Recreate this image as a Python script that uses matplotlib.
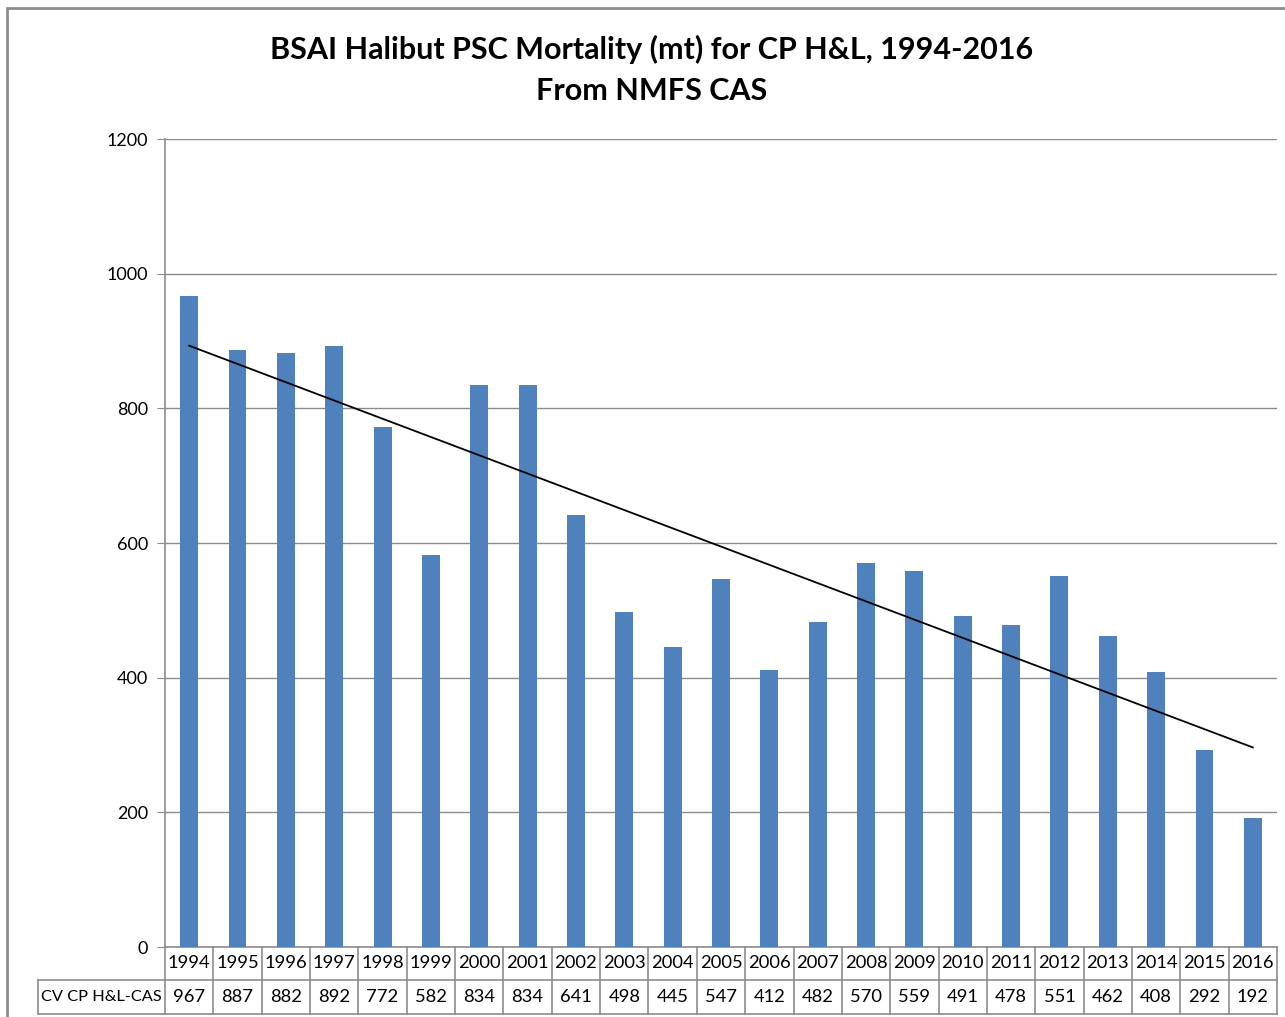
import matplotlib
matplotlib.use("Agg")
import matplotlib.pyplot as plt
import numpy as np
from matplotlib.transforms import blended_transform_factory
from matplotlib.patches import Rectangle

years = ["1994", "1995", "1996", "1997", "1998", "1999", "2000", "2001", "2002", "2003",
         "2004", "2005", "2006", "2007", "2008", "2009", "2010", "2011", "2012", "2013",
         "2014", "2015", "2016"]
values = [967, 887, 882, 892, 772, 582, 834, 834, 641, 498, 445, 547, 412, 482, 570,
          559, 491, 478, 551, 462, 408, 292, 192]
series_name = "CV CP H&L-CAS"
title = "BSAI Halibut PSC Mortality (mt) for CP H&L, 1994-2016\nFrom NMFS CAS"
yticks = [0, 200, 400, 600, 800, 1000, 1200]

plt.rcParams['font.family'] = ['Lato', 'DejaVu Sans']

W, H = 1285, 1017
fig = plt.figure(figsize=(W / 100, H / 100), dpi=100)

# outer chart border
fig.patches.append(Rectangle((7 / W, -0.1), 1.2, 1 - 8 / H + 0.1, transform=fig.transFigure,
                             fill=False, edgecolor='#8c8c8c', linewidth=2))

left, right = 165, 1277
top, bottom = 139, 947
ax = fig.add_axes([left / W, 1 - bottom / H, (right - left) / W, (bottom - top) / H])

x = np.arange(len(years))
ax.bar(x, values, width=0.37, color='#4F81BD', zorder=3)

# linear trendline
coef = np.polyfit(x, values, 1)
ax.plot([x[0], x[-1]], np.polyval(coef, [x[0], x[-1]]), color='black', linewidth=1.3, zorder=4)

ax.set_xlim(-0.5, len(years) - 0.5)
ax.set_ylim(0, 1200)
ax.set_yticks(yticks)
ax.set_yticklabels([str(t) for t in yticks], fontsize=13)
ax.set_xticks([])
ax.grid(axis='y', color='#8c8c8c', linewidth=1, zorder=0)
for s in ['top', 'right']:
    ax.spines[s].set_visible(False)
ax.spines['left'].set_color('#8c8c8c')
ax.spines['bottom'].set_color('#8c8c8c')
ax.spines['left'].set_linewidth(1.2)
ax.spines['bottom'].set_linewidth(1.2)
ax.tick_params(axis='y', length=6, color='#8c8c8c', pad=6)

# data table below
trans = blended_transform_factory(ax.transData, ax.transAxes)
ph = bottom - top
r1 = (980 - bottom) / ph
r2 = (1014 - bottom) / ph
lc = '#8c8c8c'
lw = 1.2
xl_px = 38
xl = -0.5 - (left - xl_px) / ((right - left) / len(years))
# horizontal lines
ax.plot([xl, len(years) - 0.5], [-r1, -r1], transform=trans, color=lc, lw=lw, clip_on=False)
ax.plot([xl, len(years) - 0.5], [-r2, -r2], transform=trans, color=lc, lw=lw, clip_on=False)
# vertical lines
for i in range(len(years) + 1):
    ax.plot([i - 0.5, i - 0.5], [0, -r2], transform=trans, color=lc, lw=lw, clip_on=False)
ax.plot([xl, xl], [-r1, -r2], transform=trans, color=lc, lw=lw, clip_on=False)
for i, (yr, v) in enumerate(zip(years, values)):
    ax.text(i, -r1 / 2, yr, transform=trans, ha='center', va='center', fontsize=13.2)
    ax.text(i, -(r1 + r2) / 2, str(v), transform=trans, ha='center', va='center', fontsize=13.2)
ax.text((xl - 0.5) / 2, -(r1 + r2) / 2, series_name, transform=trans, ha='center', va='center',
        fontsize=11.8)

fig.text(652 / W, 1 - 70 / H, title, ha='center', va='center', fontsize=22, fontweight='bold',
         linespacing=1.55)

fig.savefig("out.png", dpi=100)
